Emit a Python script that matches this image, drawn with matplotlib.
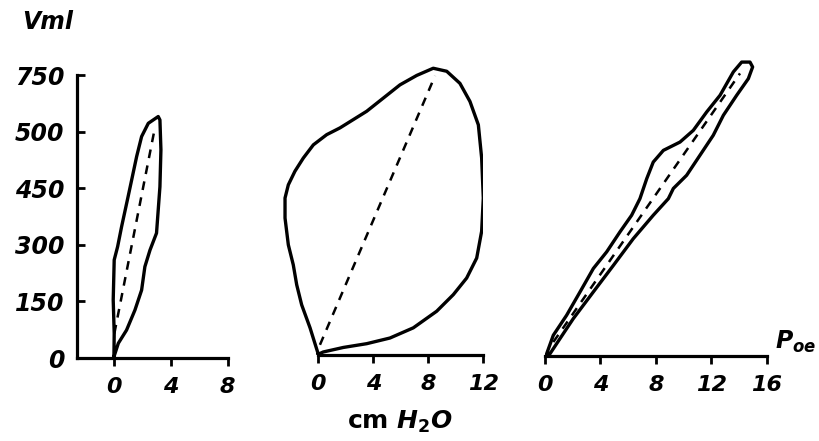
import matplotlib
matplotlib.use('Agg')
import matplotlib.pyplot as plt

# y ticks (the printed figure labels the 600 tick as "500")
y_ticks = [0, 150, 300, 450, 600, 750]
y_tick_labels = ['0', '150', '300', '450', '500', '750']

# left loop: pressure (cm H2O) vs volume (ml)
left_x = [0, 0.02, -0.05, 0.02, 0.26, 0.54, 1.0, 1.25, 1.6, 1.95, 2.42, 3.12, 3.24, 3.31,
          3.24, 3.0, 2.54, 2.18, 1.95, 1.48, 0.89, 0.31, 0]
left_y = [3, 65, 154, 260, 295, 348, 428, 472, 534, 587, 622, 640, 631, 552,
          454, 331, 286, 242, 180, 127, 74, 39, 3]
left_dash_x = [0.03, 2.9]
left_dash_y = [65, 613]

# middle loop
mid_x = [0, -0.6, -1.21, -1.57, -1.82, -2.18, -2.42, -2.42, -2.18, -1.7, -1.09, -0.36, 0.61,
         1.58, 2.55, 3.52, 4.73, 5.94, 7.16, 8.36, 9.34, 10.3, 11.03, 11.64, 11.88, 12.0,
         11.88, 11.52, 10.79, 9.82, 8.61, 6.91, 5.21, 3.52, 1.82, 0.36, 0]
mid_y = [2, 72, 133, 186, 239, 292, 363, 416, 451, 487, 522, 557, 584,
         602, 624, 646, 681, 716, 741, 760, 752, 720, 672, 610, 522, 416,
         328, 257, 204, 160, 116, 72, 45, 30, 20, 8, 2]
mid_dash_x = [0.12, 8.49]
mid_dash_y = [27, 740]

# right loop (oesophageal pressure)
right_x = [0.12, 0.6, 1.56, 2.53, 3.49, 4.45, 5.41, 6.25, 6.85, 7.34, 7.81, 8.54, 9.74, 10.7,
           11.67, 12.63, 13.59, 14.19, 14.79, 14.98, 14.67, 13.83, 12.87, 12.14, 11.18,
           10.22, 9.26, 8.9, 7.81, 6.37, 4.93, 3.49, 2.04, 1.08, 0.36, 0.12]
right_y = [6, 55, 108, 170, 232, 276, 329, 373, 417, 470, 514, 545, 567, 598,
           647, 691, 753, 779, 779, 766, 735, 691, 638, 585, 532,
           479, 444, 417, 373, 311, 240, 170, 99, 46, 6, 0]
right_dash_x = [0.6, 14.07]
right_dash_y = [37, 749]

W, H = 819, 441
fig = plt.figure(figsize=(W / 100, H / 100), dpi=100)
plt.rcParams['font.family'] = ['DejaVu Sans']
plt.rcParams['mathtext.fontset'] = 'custom'
plt.rcParams['mathtext.it'] = 'DejaVu Sans:italic:bold'
plt.rcParams['mathtext.rm'] = 'DejaVu Sans:bold'

px_per_ml = 0.3773
ymax = 820
ax_h = ymax * px_per_ml
tick_font = dict(fontstyle='italic', fontweight='bold', fontsize=16)


def make_ax(left_px, y0_px, x0, x1, px_per_unit):
    width = (x1 - x0) * px_per_unit
    ax = fig.add_axes([left_px / W, (H - y0_px) / H, width / W, ax_h / H])
    ax.set_xlim(x0, x1)
    ax.set_ylim(0, ymax)
    ax.patch.set_alpha(0)
    for s in ['top', 'right']:
        ax.spines[s].set_visible(False)
    for s in ax.spines.values():
        s.set_linewidth(2.3)
    ax.tick_params(axis='x', direction='out', length=6, width=2, pad=8)
    return ax


lw = 2.4
dash_kw = dict(color='black', lw=1.8, ls=(0, (3.5, 3)))

# left panel
ax1 = make_ax(77, 358, -2.6, 8, 14.2)
ax1.spines['left'].set_bounds(0, 750)
ax1.set_yticks(y_ticks)
ax1.set_yticklabels(y_tick_labels, fontstyle='italic', fontweight='bold', fontsize=17)
ax1.tick_params(axis='y', direction='in', length=6, width=2, pad=9)
ax1.set_xticks([0, 4, 8])
ax1.set_xticklabels(['0', '4', '8'], **tick_font)
ax1.plot(left_x, left_y, color='black', lw=lw, solid_joinstyle='round')
ax1.plot(left_dash_x, left_dash_y, **dash_kw)

# middle panel
mid_left = 318.3 - 3 * 13.75
ax2 = make_ax(mid_left, 355, -3, 12, 13.75)
ax2.spines['left'].set_visible(False)
ax2.spines['bottom'].set_bounds(0, 12)
ax2.set_yticks([])
ax2.set_xticks([0, 4, 8, 12])
ax2.set_xticklabels(['0', '4', '8', '12'], **tick_font)
ax2.plot(mid_x, mid_y, color='black', lw=lw, solid_joinstyle='round')
ax2.plot(mid_dash_x, mid_dash_y, **dash_kw)
ax2.set_xlabel(r'cm $H_2O$', fontsize=18, fontweight='bold', labelpad=10,
               x=(400 - mid_left) / (15 * 13.75))

# right panel
ax3 = make_ax(545, 356, 0, 16, 13.86)
ax3.spines['left'].set_visible(False)
ax3.set_yticks([])
ax3.set_xticks([0, 4, 8, 12, 16])
ax3.set_xticklabels(['0', '4', '8', '12', '16'], **tick_font)
ax3.plot(right_x, right_y, color='black', lw=lw, solid_joinstyle='round')
ax3.plot(right_dash_x, right_dash_y, **dash_kw)
ax3.text(16.6, 20, r'$P_{oe}$', fontsize=17, ha='left', va='baseline', clip_on=False)

fig.text(22 / W, 1 - 34 / H, 'Vml', fontsize=17, fontstyle='italic', fontweight='bold',
         ha='left', va='bottom')

fig.savefig('out.png', dpi=100)
